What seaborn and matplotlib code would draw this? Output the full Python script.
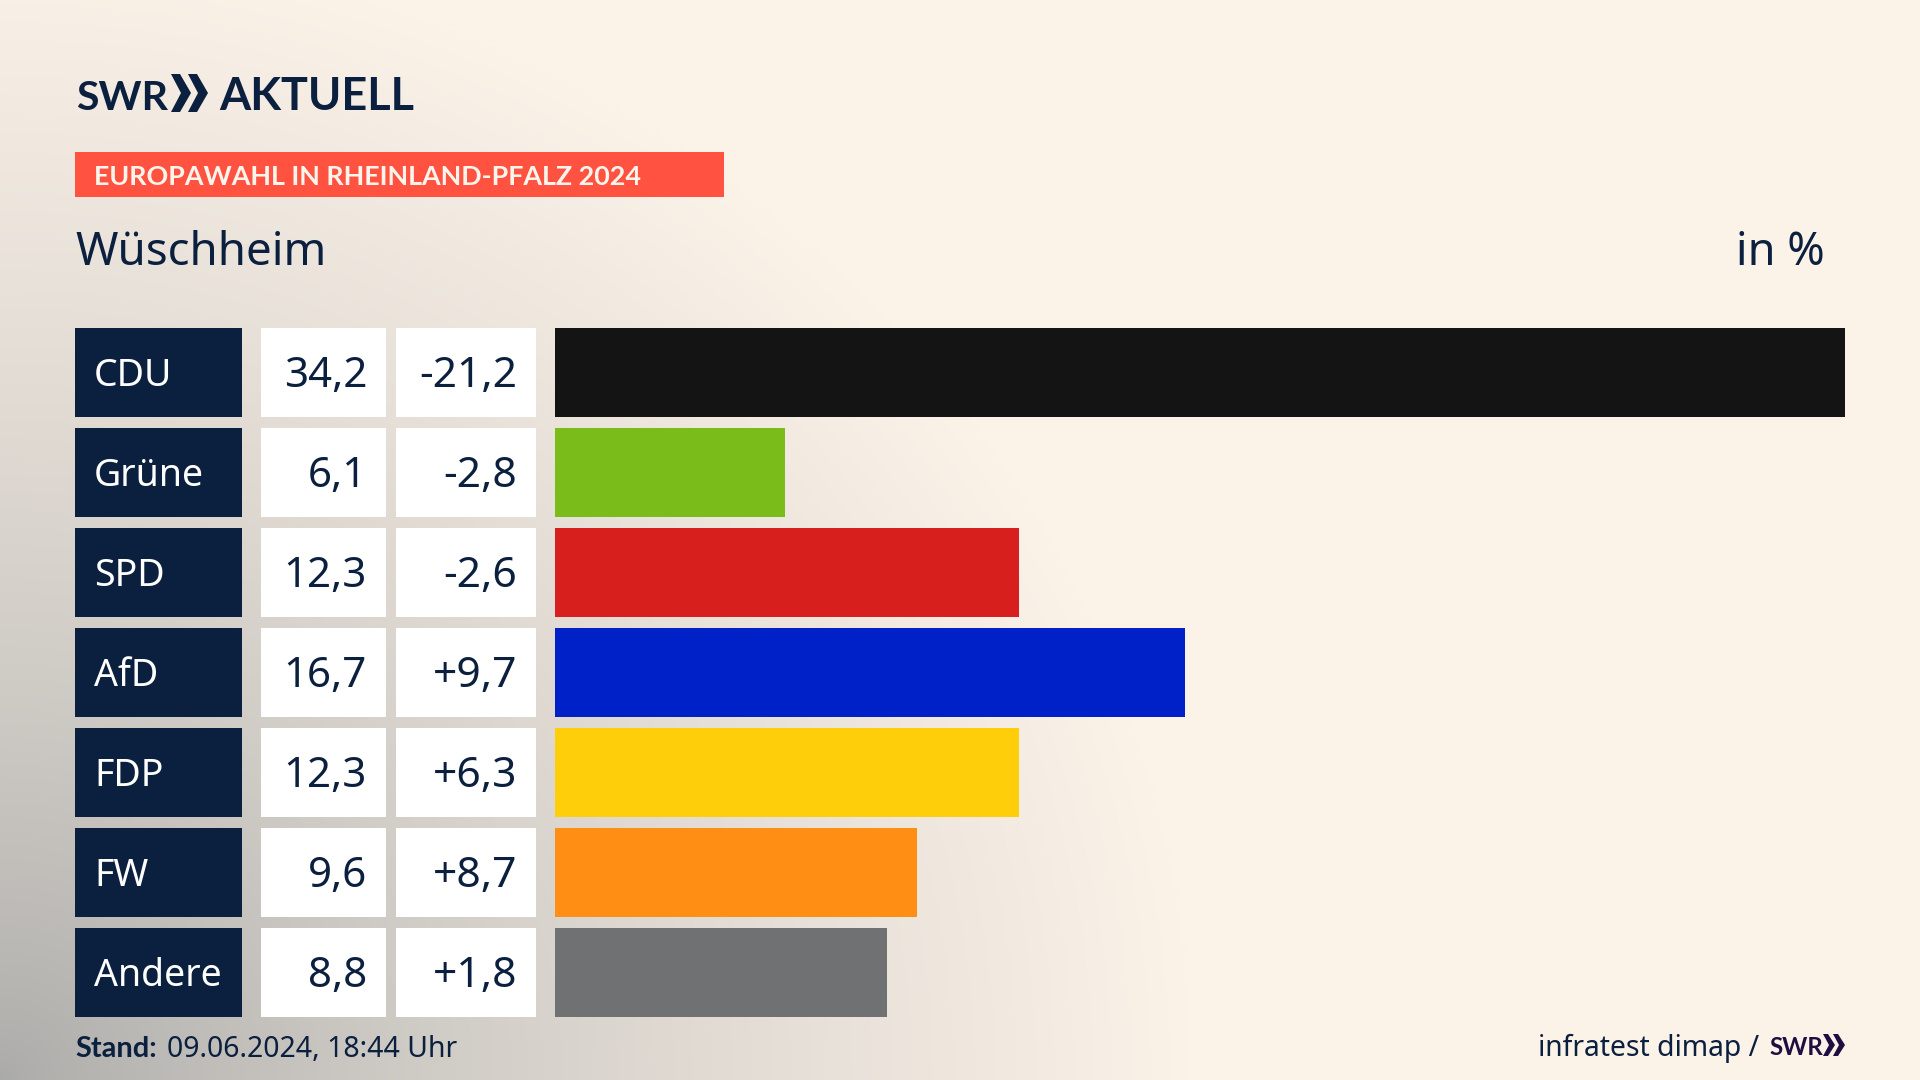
import numpy as np
import pandas as pd
import matplotlib
matplotlib.use("Agg")
import matplotlib.pyplot as plt
from matplotlib.patches import Rectangle, Polygon
import seaborn as sns

# Daten
parties = ["CDU", "Grüne", "SPD", "AfD", "FDP", "FW", "Andere"]
shares = [34.2, 6.1, 12.3, 16.7, 12.3, 9.6, 8.8]
changes = [-21.2, -2.8, -2.6, 9.7, 6.3, 8.7, 1.8]
bar_colors = ["#141414", "#7ABD1A", "#D71F1D", "#0021C7", "#FFCE0A", "#FF8E15", "#707173"]

navy = "#0B1F3E"
cream = np.array([251, 242, 232]) / 255
grey = np.array([170, 170, 168]) / 255

W, H = 1920, 1080
DPI = 100
bold_font = "Lato"


def fs(px):
    # Schriftgroesse in Pixel nach Punkt
    return px * 72 / DPI


def de(v, sign=False):
    txt = f"{v:+.1f}" if sign else f"{v:.1f}"
    return txt.replace(".", ",")


sns.set_theme(style="white")
plt.rcParams["font.family"] = ["Noto Sans", "DejaVu Sans"]

fig = plt.figure(figsize=(W / DPI, H / DPI), dpi=DPI)

# Hintergrund: Verlauf von unten links
bg = fig.add_axes([0, 0, 1, 1], zorder=0)
xx, yy = np.meshgrid(np.linspace(0, 1, 480), np.linspace(0, 1, 270))
dist = np.sqrt((xx / 0.62) ** 2 + ((1 - yy) / 1.05) ** 2)
t = np.clip(dist, 0, 1) ** 0.75
img = grey[None, None, :] * (1 - t[..., None]) + cream[None, None, :] * t[..., None]
bg.imshow(img, extent=[0, W, H, 0], aspect="auto", interpolation="bilinear")
bg.set_xlim(0, W)
bg.set_ylim(H, 0)
bg.axis("off")

# Zeilen
row_top = 328
row_pitch = 100
row_h = 89

# Balken
bar_left, bar_right = 555, 1845
ax = fig.add_axes(
    [bar_left / W, 1 - (row_top - 5.5 + 7 * row_pitch) / H,
     (bar_right - bar_left) / W, 7 * row_pitch / H],
    zorder=1,
)
df = pd.DataFrame({"party": parties, "share": shares})
sns.barplot(
    data=df, x="share", y="party", hue="party", order=parties, hue_order=parties,
    palette=bar_colors, saturation=1, width=row_h / row_pitch, legend=False, ax=ax,
    linewidth=0, edgecolor="none",
)
ax.set_xlim(0, max(shares))
ax.set_ylim(6.5, -0.5)
ax.axis("off")

# Alles andere in Pixelkoordinaten
ov = fig.add_axes([0, 0, 1, 1], zorder=2)
ov.set_xlim(0, W)
ov.set_ylim(H, 0)
ov.axis("off")
ov.patch.set_alpha(0)

for i, party in enumerate(parties):
    top = row_top + i * row_pitch
    base = top + 59
    ov.add_patch(Rectangle((75, top), 167, row_h, color=navy, lw=0))
    ov.add_patch(Rectangle((261, top), 125, row_h, color="white", lw=0))
    ov.add_patch(Rectangle((396, top), 140, row_h, color="white", lw=0))
    ov.text(94, base - 1, party, color="white", fontsize=fs(37.5), va="baseline", ha="left")
    ov.text(367, base, de(shares[i]), color=navy, fontsize=fs(42), va="baseline", ha="right")
    ov.text(517, base, de(changes[i], sign=True), color=navy, fontsize=fs(42.5), va="baseline", ha="right")

# Logo
ov.text(76, 110, "SWR", color=navy, fontsize=fs(41), fontweight="bold", family=bold_font, va="baseline")
ov.text(219, 110, "AKTUELL", color=navy, fontsize=fs(45), fontweight="bold", family=bold_font, va="baseline")
for dx in (0, 17):
    ov.add_patch(Polygon(
        [(171 + dx, 74), (180 + dx, 74), (191 + dx, 93), (180 + dx, 112), (171 + dx, 112), (181 + dx, 93)],
        closed=True, color=navy, lw=0,
    ))

# Kopfzeile
ov.add_patch(Rectangle((75, 152), 649, 45, color="#FF5240", lw=0))
ov.text(94, 185, "EUROPAWAHL IN RHEINLAND-PFALZ 2024", color="#FDF5EC", fontsize=fs(26.9),
        fontweight="bold", family=bold_font, va="baseline")
ov.text(75, 265, "Wüschheim", color=navy, fontsize=fs(45.7), va="baseline")
ov.text(1825, 265, "in %", color=navy, fontsize=fs(45), va="baseline", ha="right")

# Fusszeile
ov.text(75, 1057, "Stand:", color=navy, fontsize=fs(29), fontweight="bold", family=bold_font, va="baseline")
ov.text(167, 1057, "09.06.2024, 18:44 Uhr", color=navy, fontsize=fs(28.4), va="baseline")
ov.text(1759, 1056, "infratest dimap /", color=navy, fontsize=fs(28.3), va="baseline", ha="right")
purple = "#1F0F40"
ov.text(1769, 1055, "SWR", color=purple, fontsize=fs(24), fontweight="bold", family=bold_font, va="baseline")
for dx in (0, 10):
    ov.add_patch(Polygon(
        [(1823 + dx, 1034), (1828 + dx, 1034), (1835 + dx, 1045), (1828 + dx, 1056), (1823 + dx, 1056), (1829 + dx, 1045)],
        closed=True, color=purple, lw=0,
    ))

fig.savefig("out.png", dpi=DPI)
